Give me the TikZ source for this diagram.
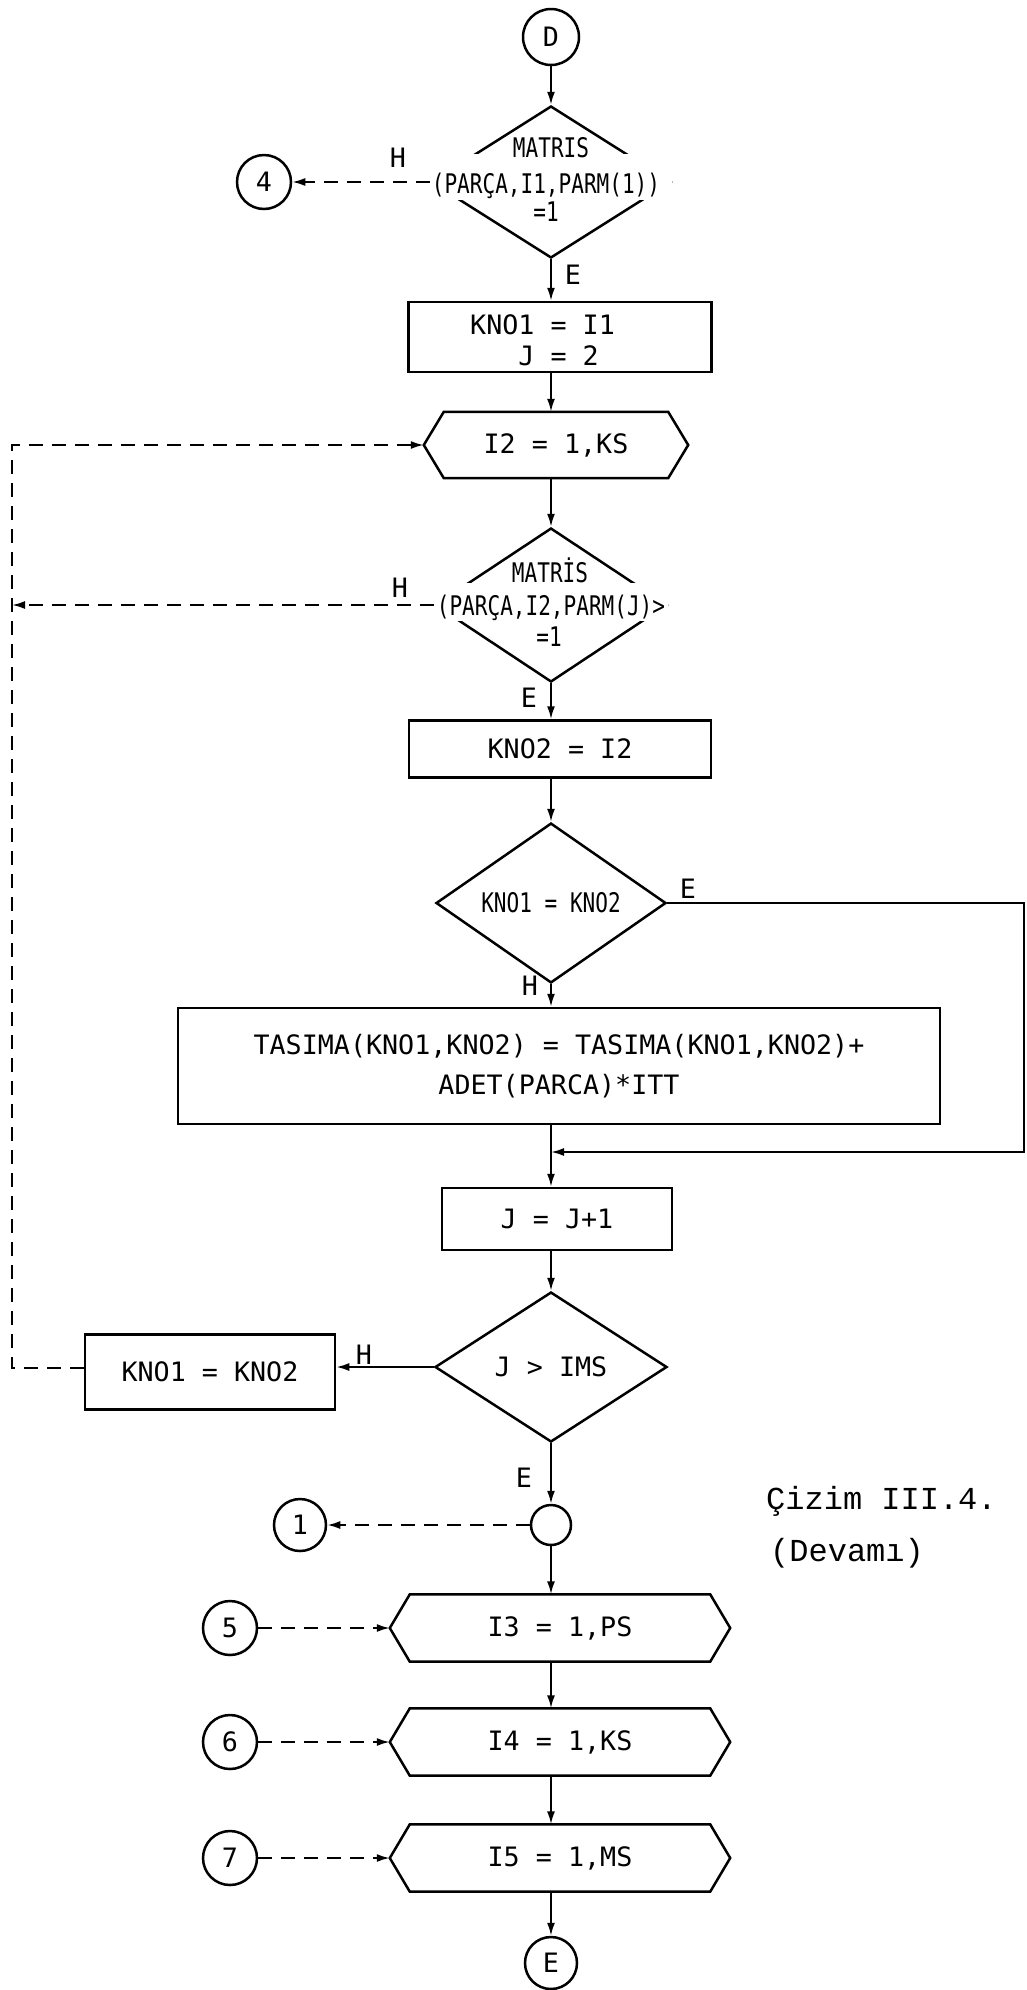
\documentclass[tikz,border=0pt]{standalone}
\usepackage{fontspec}
\newfontfamily\monof[WordSpace={1,0,0}]{DejaVu Sans Mono}
\newfontfamily\condf[FakeStretch=0.78,WordSpace={1,0,0}]{DejaVu Sans Mono}
\newfontfamily\typef[WordSpace={1,0,0}]{Liberation Mono}
\newcommand\bxfont{\monof\fontsize{26.7}{31}\selectfont}
\newcommand\dmfont{\condf\fontsize{27}{30}\selectfont}
\usetikzlibrary{arrows.meta,shapes.geometric}

\begin{document}
\begin{tikzpicture}[x=1pt,y=-1pt,
  shapeline/.style={draw=black, line width=2.5pt},
  flow/.style={draw=black, line width=2pt, -{Latex[length=13pt,width=8pt]}},
  dashlink/.style={flow, dash pattern=on 14pt off 9pt},
  procbox/.style={shapeline, rectangle, inner sep=0pt, font=\bxfont},
  hexin/.style={rectangle, inner sep=0pt, font=\bxfont},
  dia/.style={shapeline, diamond, inner sep=0pt},
  conn/.style={shapeline, circle, inner sep=0pt, minimum size=54pt, font=\bxfont},
  textgap/.style={rectangle, fill=white, inner sep=0pt},
  dtext/.style={inner sep=0pt, font=\dmfont},
  lbl/.style={inner sep=0pt, font=\bxfont},
  typetext/.style={inner sep=0pt, font={\typef\fontsize{32}{52}\selectfont}}
]
\useasboundingbox (0,0) rectangle (1027,1990);

% guide coordinates
\coordinate (axis) at (551,0);
\coordinate (lt) at (12,445);
\coordinate (lb) at (12,1368);
\coordinate (rt) at (1024,903);
\coordinate (rb) at (1024,1152);

% connector D and first test
\node[conn, minimum size=56pt] (D) at (551,37) {D};
\node[dia, minimum width=240pt, minimum height=152pt] (d1) at (551,182) {};
\node[textgap, minimum width=242pt, minimum height=46pt] (d1g) at (551,177) {};
\node[dtext, anchor=base] (d1a) at (551,157) {MATRIS};
\node[dtext, anchor=base] (d1b) at (546,193) {(PARÇA,I1,PARM(1))};
\node[dtext, anchor=base] (d1c) at (546,221) {=1};
\node[conn] (c4) at (264,182) {4};
\node[lbl] (l1) at (398,158) {H};
\node[lbl] (l2) at (573,275) {E};

\node[procbox, minimum width=303pt, minimum height=70pt] (k1) at (560,337) {};
\node[inner sep=0pt, font=\bxfont, align=left, anchor=west] (k1t) at (470,340)
      {KNO1 = I1\\\phantom{KNO}J = 2};

% loop over I2
\node[hexin, minimum width=224pt, minimum height=66pt] (h2) at (556,445) {I2 = 1,KS};
\node[dia, minimum width=232pt, minimum height=154pt] (d2) at (551,605) {};
\node[textgap, minimum width=234pt, minimum height=38pt] (d2g) at (551,602) {};
\node[dtext, anchor=base] (d2a) at (550,582) {MATRİS};
\node[dtext, anchor=base] (d2b) at (551,615) {(PARÇA,I2,PARM(J)>};
\node[dtext, anchor=base] (d2c) at (549,646) {=1};
\node[lbl] (l3) at (400,588) {H};
\node[lbl] (l4) at (529,698) {E};

\node[procbox, minimum width=302pt, minimum height=57pt] (k2) at (560,749) {KNO2 = I2};
\node[dia, minimum width=230pt, minimum height=154pt, font=\dmfont] (d3) at (551,903) {KNO1 = KNO2};
\node[lbl] (l5) at (688,889) {E};
\node[lbl] (l6) at (530,986) {H};

\node[procbox, minimum width=762pt, minimum height=116pt, align=center,
      font={\monof\fontsize{26.7}{40}\selectfont}] (t) at (559,1066)
      {TASIMA(KNO1,KNO2) = TASIMA(KNO1,KNO2)+\\ADET(PARCA)*ITT};

\node[procbox, minimum width=230pt, minimum height=62pt] (j) at (557,1219) {J = J+1};
\node[dia, minimum width=232pt, minimum height=150pt, font=\bxfont] (d4) at (551,1367) {J > IMS};
\node[procbox, minimum width=250pt, minimum height=75pt] (k3) at (210,1372) {KNO1 = KNO2};
\node[lbl] (l7) at (364,1355) {H};
\node[lbl] (l8) at (524,1478) {E};

\node[conn, minimum size=40pt] (sc) at (551,1525) {};
\node[conn, minimum size=52pt] (c1) at (300,1525) {1};

% nested loops
\node[hexin, minimum width=300pt, minimum height=67pt] (h3) at (560,1628) {I3 = 1,PS};
\node[hexin, minimum width=300pt, minimum height=67pt] (h4) at (560,1742) {I4 = 1,KS};
\node[hexin, minimum width=300pt, minimum height=67pt] (h5) at (560,1858) {I5 = 1,MS};
\node[conn] (c5) at (230,1628) {5};
\node[conn] (c6) at (230,1742) {6};
\node[conn] (c7) at (230,1858) {7};
\node[conn, minimum size=52pt] (E) at (551,1963) {E};

% hexagon outlines and their pointed ends
\foreach \h in {h2,h3,h4,h5} {
  \draw[shapeline] (\h.north west) -- (\h.north east) -- ([xshift=20pt]\h.east)
    -- (\h.south east) -- (\h.south west) -- ([xshift=-20pt]\h.west) -- cycle;
  \coordinate (\h-w) at ([xshift=-20pt]\h.west);
}

% caption
\node[typetext, anchor=base west] (cap1) at (766,1509) {Çizim III.4.};
\node[typetext, anchor=base west] (cap2) at (770,1561) {(Devamı)};

% main flow
\draw[flow] (D) -- (d1);
\draw[dashlink] (d1.west) -- (c4);
\draw[flow] (d1.south) -- (k1.north -| axis);
\draw[flow] (k1.south -| axis) -- (h2.north -| axis);
\draw[flow] (h2.south -| axis) -- (d2.north);
\draw[dashlink] (d2.west) -- (d2.west -| lt);
\draw[flow] (d2.south) -- (k2.north -| axis);
\draw[flow] (k2.south -| axis) -- (d3.north);
\draw[flow] (d3.south) -- (t.north -| d3.south);
\draw[flow] (d3.east) -- (rt) -- (rb) -- (rb -| axis);
\draw[flow] (t.south -| axis) -- (j.north -| axis);
\draw[flow] (j.south -| axis) -- (d4.north);
\draw[flow] (d4.west) -- (d4.west -| k3.east);
\draw[dashlink] (k3.west |- lb) -- (lb) -- (lt) -- (h2-w);
\draw[flow] (d4.south) -- (sc);
\draw[dashlink] (sc) -- (c1);
\draw[flow] (sc) -- (h3.north -| axis);
\draw[flow] (h3.south -| axis) -- (h4.north -| axis);
\draw[flow] (h4.south -| axis) -- (h5.north -| axis);
\draw[flow] (h5.south -| axis) -- (E);
\draw[dashlink] (c5) -- (h3-w);
\draw[dashlink] (c6) -- (h4-w);
\draw[dashlink] (c7) -- (h5-w);
\end{tikzpicture}
\end{document}
